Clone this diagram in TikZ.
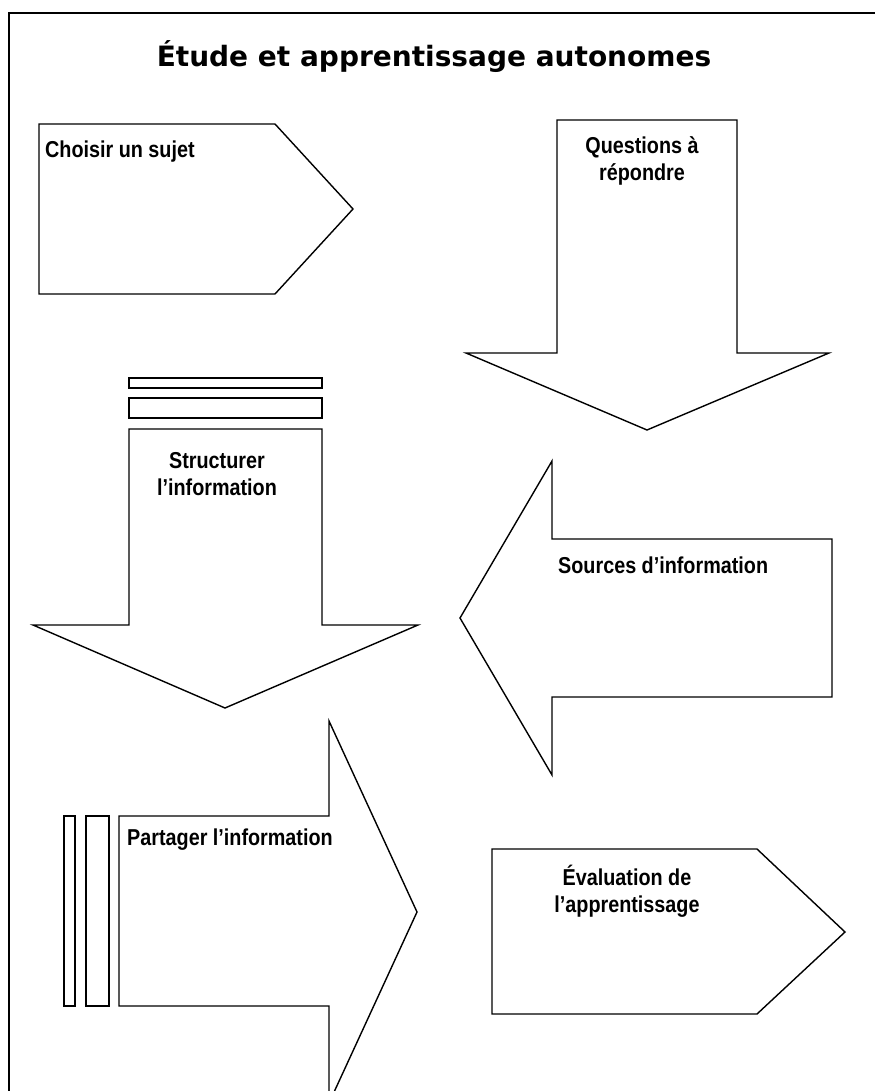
\documentclass[tikz,border=0pt]{standalone}
\usepackage{fontspec}
\usepackage{tikz}
\newfontfamily\etroit[FakeStretch=0.86]{Liberation Sans}
\newfontfamily\titrefont{DejaVu Sans}

\begin{document}
\begin{tikzpicture} [
    x=1pt, y=-1pt,
    fleche/.style   = { draw=black, line width=1.4pt, line join=miter, fill=white},
    barre/.style    = { draw=black, line width=1.4pt, fill=white},
    etiquette/.style = { inner sep=0pt, align=center,
                        font=\etroit\bfseries\fontsize{23}{27}\selectfont},
    titre/.style    = { inner sep=0pt, font=\titrefont\bfseries\fontsize{28}{32}\selectfont},
  ]

% cadre (seulement haut et gauche visibles)
  \useasboundingbox (0,0) rectangle (875,1091);
  \draw[line width=2pt] (9,1091) -- (9,13) -- (875,13);

  \node[titre] (titre) at (434,57) {Étude et apprentissage autonomes};

%%%%%%%%%%%%%%%%%%%%%%%%%%%%%%%%%%%%%%%%%%
% Choisir un sujet (pentagone)
  \draw[fleche] (39,124) -- (275,124) -- (353,209) -- (275,294) -- (39,294) -- cycle;
  \node[etiquette, anchor=west] (sujet) at (45,152) {Choisir un sujet};

%%%%%%%%%%%%%%%%%%%%%%%%%%%%%%%%%%%%%%%%%%
% Questions (fleche vers le bas)
  \draw[fleche] (557,120) -- (737,120) -- (737,353) -- (829,353) -- (647,430)
                -- (466,353) -- (557,353) -- cycle;
  \node[etiquette] (questions) at (642,161) {Questions à\\répondre};

%%%%%%%%%%%%%%%%%%%%%%%%%%%%%%%%%%%%%%%%%%
% Structurer (fleche vers le bas avec barres)
  \draw[barre] (129,378) rectangle (322,388);
  \draw[barre] (129,398) rectangle (322,418);
  \draw[fleche] (129,429) -- (322,429) -- (322,625) -- (418,625) -- (225,708)
                -- (33,625) -- (129,625) -- cycle;
  \node[etiquette] (structurer) at (217,474) {Structurer\\l’information};

%%%%%%%%%%%%%%%%%%%%%%%%%%%%%%%%%%%%%%%%%%
% Sources (fleche vers la gauche)
  \draw[fleche] (832,539) -- (832,697) -- (552,697) -- (552,775) -- (460,618)
                -- (552,461) -- (552,539) -- cycle;
  \node[etiquette, anchor=west] (sources) at (558,565) {Sources d’information};

%%%%%%%%%%%%%%%%%%%%%%%%%%%%%%%%%%%%%%%%%%
% Partager (fleche vers la droite avec barres)
  \draw[barre] (64,816) rectangle (75,1006);
  \draw[barre] (86,816) rectangle (109,1006);
  \draw[fleche] (119,816) -- (329,816) -- (329,721) -- (417,912) -- (329,1103)
                -- (329,1006) -- (119,1006) -- cycle;
  \node[etiquette, anchor=west] (partager) at (127,840) {Partager l’information};

%%%%%%%%%%%%%%%%%%%%%%%%%%%%%%%%%%%%%%%%%%
% Evaluation (pentagone)
  \draw[fleche] (492,849) -- (757,849) -- (845,932) -- (757,1014) -- (492,1014) -- cycle;
  \node[etiquette] (evaluation) at (627,891) {Évaluation de\\l’apprentissage};
\end{tikzpicture}
\end{document}
